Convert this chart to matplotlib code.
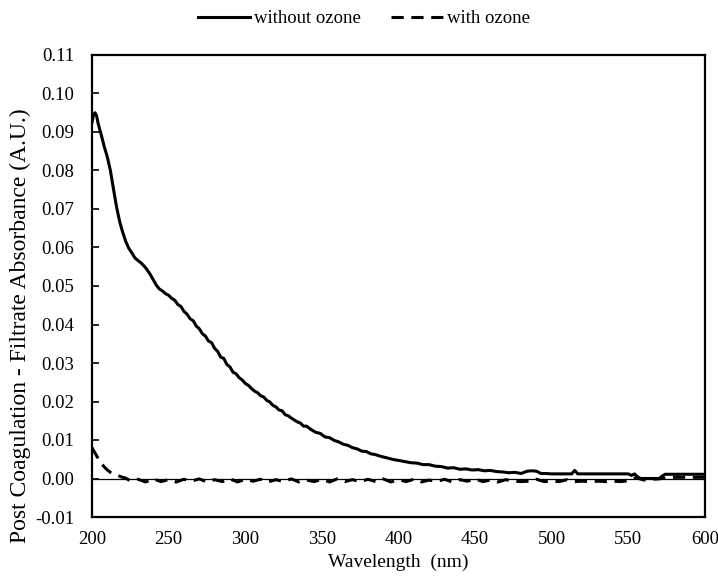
import matplotlib
matplotlib.use("Agg")
import matplotlib.pyplot as plt

plt.rcParams['font.family'] = ['Liberation Serif', 'DejaVu Serif']

# without ozone
wl_without = [
    200, 201, 202, 203, 204, 206, 208, 210, 212, 214,
    216, 218, 220, 222, 224, 226, 228, 230, 232, 234,
    236, 238, 240, 242, 244, 246, 248, 250, 252, 254,
    256, 258, 260, 262, 264, 266, 268, 270, 272, 274,
    276, 278, 280, 282, 284, 286, 288, 290, 292, 294,
    296, 298, 300, 302, 304, 306, 308, 310, 312, 314,
    316, 318, 320, 322, 324, 326, 328, 330, 332, 334,
    336, 338, 340, 343, 346, 349, 352, 355, 358, 361,
    364, 367, 370, 373, 376, 379, 382, 385, 388, 391,
    394, 397, 400, 404, 408, 412, 416, 420, 424, 428,
    432, 436, 440, 444, 448, 452, 456, 460, 464, 468,
    472, 476, 480, 484, 487, 490, 493, 496, 500, 505,
    510, 513, 515, 517, 520, 525, 530, 535, 540, 545,
    550, 552, 554, 556, 558, 560, 565, 570, 572, 574,
    576, 580, 590, 600,
]
abs_without = [
    0.0925, 0.0945, 0.0950, 0.0942, 0.0922, 0.0893, 0.0862, 0.0835, 0.0800, 0.0752,
    0.0706, 0.0668, 0.0640, 0.0616, 0.0598, 0.0586, 0.0573, 0.0566, 0.0560, 0.0552,
    0.0542, 0.0530, 0.0516, 0.0502, 0.0492, 0.0487, 0.0480, 0.0476, 0.0468, 0.0463,
    0.0452, 0.0447, 0.0434, 0.0427, 0.0415, 0.0410, 0.0396, 0.0389, 0.0376, 0.0370,
    0.0357, 0.0353, 0.0338, 0.0330, 0.0315, 0.0312, 0.0296, 0.0290, 0.0276, 0.0272,
    0.0262, 0.0256, 0.0247, 0.0242, 0.0234, 0.0227, 0.0223, 0.0215, 0.0212, 0.0203,
    0.0199, 0.0190, 0.0186, 0.0178, 0.0176, 0.0166, 0.0163, 0.0157, 0.0152, 0.0147,
    0.0144, 0.0136, 0.0136, 0.0127, 0.0120, 0.0117, 0.0108, 0.0106, 0.0099, 0.0095,
    0.0089, 0.0086, 0.0080, 0.0077, 0.0071, 0.0070, 0.0064, 0.0062, 0.0058, 0.0055,
    0.0052, 0.0049, 0.0047, 0.0044, 0.0041, 0.0040, 0.0036, 0.0036, 0.0032, 0.0031,
    0.0027, 0.0028, 0.0024, 0.0025, 0.0022, 0.0023, 0.0020, 0.0021, 0.0018, 0.0017,
    0.0015, 0.0016, 0.0013, 0.0019, 0.0020, 0.0019, 0.0013, 0.0013, 0.0012, 0.0012,
    0.0012, 0.0012, 0.0021, 0.0012, 0.0012, 0.0012, 0.0012, 0.0012, 0.0012, 0.0012,
    0.0012, 0.0008, 0.0012, 0.0004, 0.0000, 0.0000, 0.0000, 0.0000, 0.0006, 0.0011,
    0.0011, 0.0011, 0.0011, 0.0011,
]

# with ozone
wl_with = [
    200, 202, 204, 206, 208, 210, 212, 214, 216, 218, 220, 222,
    225, 230, 235, 240, 245, 250, 255, 260, 265, 270,
    275, 280, 285, 290, 295, 300, 305, 310, 315, 320,
    325, 330, 335, 340, 345, 350, 355, 360, 365, 370,
    375, 380, 385, 390, 395, 400, 405, 410, 415, 420,
    425, 430, 435, 440, 445, 450, 455, 460, 465, 470,
    475, 480, 485, 490, 495, 500, 505, 510, 515, 520,
    525, 530, 535, 540, 545, 550, 555, 560, 565, 570,
    575, 580, 585, 590, 595, 600,
]
abs_with = [
    0.0080, 0.0066, 0.0052, 0.0040, 0.0030, 0.0022, 0.0016, 0.0012, 0.0009, 0.0006, 0.0003, 0.0001,
    -0.0006, -0.0002, -0.0009, -0.0001, -0.0008, -0.0003, -0.0009, -0.0002, -0.0007, -0.0001,
    -0.0009, -0.0003, -0.0008, -0.0001, -0.0009, -0.0002, -0.0007, -0.0002, -0.0009, -0.0003,
    -0.0008, -0.0001, -0.0009, -0.0004, -0.0008, -0.0002, -0.0009, -0.0001, -0.0008, -0.0003,
    -0.0009, -0.0002, -0.0008, -0.0001, -0.0009, -0.0003, -0.0008, -0.0002, -0.0009, -0.0004,
    -0.0008, -0.0002, -0.0009, -0.0003, -0.0007, -0.0001, -0.0008, -0.0004, -0.0009, -0.0003,
    -0.0007, -0.0008, -0.0007, -0.0002, -0.0008, -0.0007, -0.0008, -0.0003, -0.0008, -0.0007,
    -0.0008, -0.0007, -0.0008, -0.0007, -0.0008, -0.0006, 0.0002, -0.0004, -0.0002, -0.0001,
    0.0002, 0.0003, 0.0003, 0.0003, 0.0003, 0.0003,
]

x_ticks = [200, 250, 300, 350, 400, 450, 500, 550, 600]
y_ticks = [-0.01, 0.00, 0.01, 0.02, 0.03, 0.04, 0.05, 0.06, 0.07, 0.08, 0.09, 0.10, 0.11]

fig = plt.figure(figsize=(7.18, 5.77), dpi=100)
ax = fig.add_axes([92/718, 1 - 517/577, (705 - 92)/718, (517 - 55)/577])

ax.axhline(0, color='black', lw=0.9, zorder=1)
ax.plot(wl_without, abs_without, color='black', lw=2.2, label='without ozone', zorder=3)
ax.plot(wl_with, abs_with, color='black', lw=2.2, linestyle=(0, (4, 2.5)), label='with ozone', zorder=2)

ax.set_xlim(200, 600)
ax.set_ylim(-0.01, 0.11)
ax.set_xticks(x_ticks)
ax.set_yticks(y_ticks)
ax.set_xticklabels([str(v) for v in x_ticks])
ax.set_yticklabels([f"{v:.2f}" for v in y_ticks])
ax.tick_params(axis='y', direction='in', length=5, width=1.2, pad=13, labelsize=13.5)
ax.tick_params(axis='x', length=0, pad=10, labelsize=13.5)
for s in ax.spines.values():
    s.set_linewidth(1.6)

ax.set_xlabel('Wavelength  (nm)', fontsize=14, labelpad=4)
ax.set_ylabel('Post Coagulation - Filtrate Absorbance (A.U.)', fontsize=17)
ax.yaxis.set_label_coords(-0.099, 0.415)

fig.legend(loc='upper center', bbox_to_anchor=(0.507, 1.012), ncol=2, frameon=False,
           fontsize=13.5, handlelength=2.8, columnspacing=1.6, handletextpad=0.2)

fig.savefig('out.png', dpi=100)
